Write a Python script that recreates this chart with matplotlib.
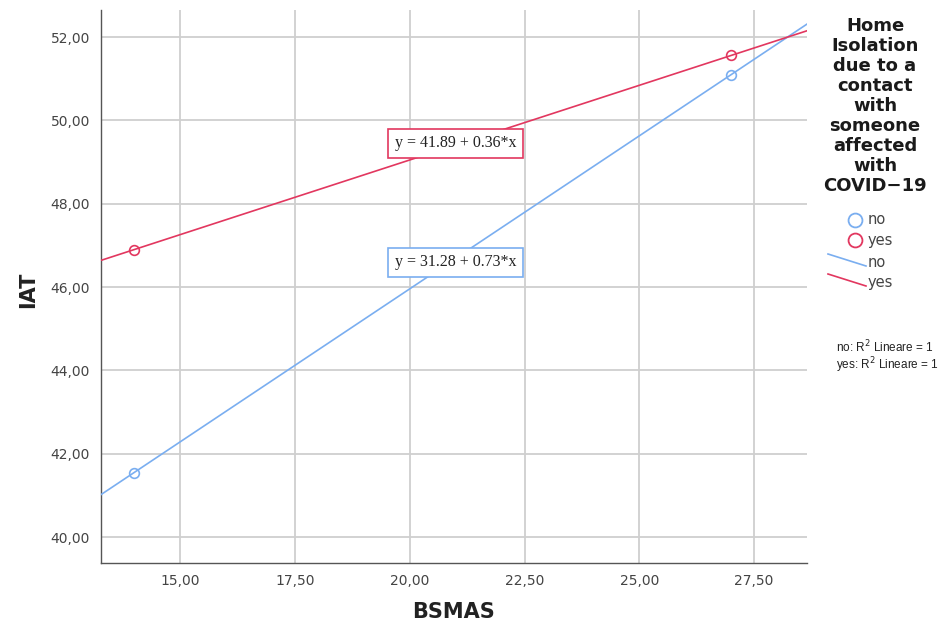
import matplotlib
matplotlib.use("Agg")
import matplotlib.pyplot as plt
import numpy as np
from matplotlib.lines import Line2D
from matplotlib.ticker import FuncFormatter

# data
groups = ["no", "yes"]
bsmas_no = [14.0, 27.0]
iat_no = [41.55, 51.10]
bsmas_yes = [14.0, 27.0]
iat_yes = [46.90, 51.56]
equations = ["y = 31.28 + 0.73*x", "y = 41.89 + 0.36*x"]
eq_pos = [(21.0, 46.6), (21.0, 49.45)]

BLUE = "#7aaef0"
RED = "#e2375f"
GRID = "#cfcfcf"
TXT = "#444444"

plt.rcParams["font.family"] = ["DejaVu Sans"]

fig = plt.figure(figsize=(9.42, 6.26), dpi=100)
ax = fig.add_axes([101 / 942, 1 - 563 / 626, 706 / 942, 553 / 626])

xlim = (13.28, 28.65)
ylim = (39.38, 52.65)
ax.set_xlim(*xlim)
ax.set_ylim(*ylim)

series = [(bsmas_no, iat_no, BLUE), (bsmas_yes, iat_yes, RED)]
xs_line = np.array(xlim)
for (xv, yv, col), eq, pos in zip(series, equations, eq_pos):
    slope, icpt = np.polyfit(xv, yv, 1)
    ax.plot(xs_line, icpt + slope * xs_line, color=col, lw=1.2, zorder=3)
    ax.plot(xv, yv, "o", ms=7, mfc="none", mec=col, mew=1.2, zorder=4)
    ax.text(pos[0], pos[1], eq, ha="center", va="center", fontsize=11.5,
            family="Liberation Serif", color="#222", zorder=5,
            bbox=dict(boxstyle="square,pad=0.4", fc="white", ec=col, lw=1.2))

ax.set_xticks([15, 17.5, 20, 22.5, 25, 27.5])
ax.set_yticks([40, 42, 44, 46, 48, 50, 52])
fmt = FuncFormatter(lambda v, _: f"{v:.2f}".replace(".", ","))
ax.xaxis.set_major_formatter(fmt)
ax.yaxis.set_major_formatter(fmt)
ax.tick_params(length=0, labelsize=10, labelcolor=TXT, pad=8)
ax.grid(True, color=GRID, lw=1.3)
ax.set_axisbelow(True)
for s in ["top", "right"]:
    ax.spines[s].set_visible(False)
for s in ["left", "bottom"]:
    ax.spines[s].set_color("#555")
    ax.spines[s].set_linewidth(1.0)

ax.set_xlabel("BSMAS", fontsize=15, fontweight="bold", color="#222")
ax.set_ylabel("IAT", fontsize=15, fontweight="bold", color="#222")
ax.xaxis.set_label_coords(0.5, (563 - 612) / 553, transform=ax.transAxes)
ax.yaxis.set_label_coords((28 - 101) / 706, 1 - (290 - 10) / 553, transform=ax.transAxes)
ax.xaxis.label.set_va("center")
ax.yaxis.label.set_va("center")

# legend drawn by hand to match the side panel
title = "Home\nIsolation\ndue to a\ncontact\nwith\nsomeone\naffected\nwith\nCOVID\u221219"
fig.text(875 / 942, 1 - 17 / 626, title, ha="center", va="top", fontsize=13,
         fontweight="bold", color="#1a1a1a", linespacing=1.14)

cx = 855 / 942
for i, (g, col) in enumerate(zip(groups, [BLUE, RED])):
    y = 1 - (220 + 20 * i) / 626
    fig.add_artist(Line2D([cx], [y], marker="o", ms=10, mfc="none", mec=col, mew=1.3,
                          transform=fig.transFigure))
    fig.text(868 / 942, y, g, ha="left", va="center", fontsize=10.5, color=TXT)
for i, (g, col) in enumerate(zip(groups, [BLUE, RED])):
    y0 = 1 - (254 + 20 * i) / 626
    y1 = 1 - (266 + 20 * i) / 626
    fig.add_artist(Line2D([828 / 942, 866 / 942], [y0, y1], color=col, lw=1.2,
                          transform=fig.transFigure))
    fig.text(868 / 942, (y0 + y1) / 2 - 0.004, g, ha="left", va="center", fontsize=10.5, color=TXT)

fig.text(836 / 942, 1 - 347 / 626, "no: R$^2$ Lineare = 1", ha="left", va="center",
         fontsize=8.5, family="Liberation Sans", color="#222")
fig.text(836 / 942, 1 - 365 / 626, "yes: R$^2$ Lineare = 1", ha="left", va="center",
         fontsize=8.5, family="Liberation Sans", color="#222")

fig.savefig("out.png", dpi=100)
